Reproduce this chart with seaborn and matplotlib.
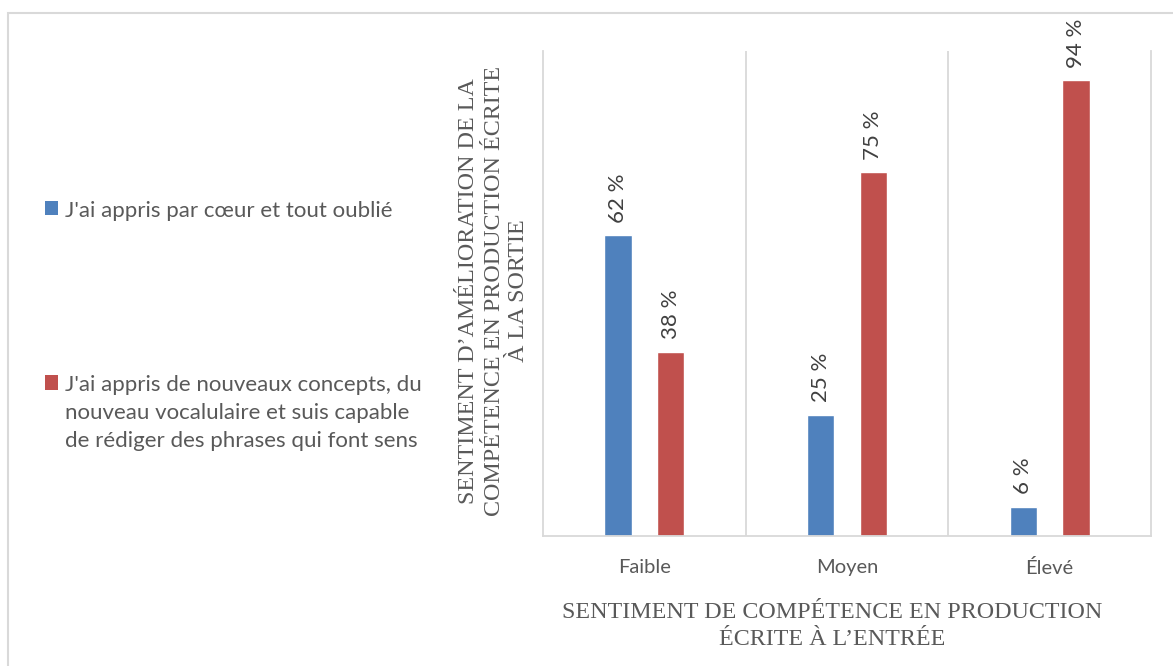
import matplotlib
matplotlib.use("Agg")
import matplotlib.pyplot as plt
import seaborn as sns
import pandas as pd
from matplotlib.patches import Patch, Rectangle

categories = ["Faible", "Moyen", "Élevé"]
series_names = [
    "J'ai appris par cœur et tout oublié",
    "J'ai appris de nouveaux concepts, du\nnouveau vocalulaire et suis capable\nde rédiger des phrases qui font sens",
]
values_oublie = [62, 25, 6]
values_concepts = [38, 75, 94]
colors = ["#4F81BD", "#C0504D"]
xlabel = "SENTIMENT DE COMPÉTENCE EN PRODUCTION\nÉCRITE À L’ENTRÉE"
ylabel = "SENTIMENT D’AMÉLIORATION DE LA\nCOMPÉTENCE EN PRODUCTION ÉCRITE\nÀ LA SORTIE"

df = pd.DataFrame({
    "cat": categories * 2,
    "serie": [series_names[0]] * 3 + [series_names[1]] * 3,
    "val": values_oublie + values_concepts,
})

sns.set_theme(style="white")
plt.rcParams["font.family"] = ["Lato", "DejaVu Sans"]

fig = plt.figure(figsize=(11.73, 6.66), dpi=100)
ax = fig.add_axes([543 / 1173, 130 / 666, 608 / 1173, 485 / 666])

sns.barplot(data=df, x="cat", y="val", hue="serie", order=categories,
            hue_order=series_names, palette=colors, width=0.52, gap=0.48,
            ax=ax, legend=False, saturation=1)

ax.set_ylim(0, 100)
ax.set_xlim(-0.5, 2.5)
ax.set_yticks([])
ax.set_xticks(range(3))
ax.set_xticklabels(categories)
ax.tick_params(axis="x", length=0, pad=16.5, labelsize=14.5, labelcolor="#595959")
ax.set_xticks([0.5, 1.5], minor=True)
ax.tick_params(axis="x", which="minor", length=0)
ax.grid(False)
ax.grid(True, axis="x", which="minor", color="#d9d9d9", linewidth=1.3)

ax.spines["top"].set_visible(False)
for side in ["left", "right", "bottom"]:
    ax.spines[side].set_color("#d9d9d9")
    ax.spines[side].set_linewidth(1.3)

for cont in ax.containers:
    ax.bar_label(cont, labels=[f"{v:.0f} %" for v in cont.datavalues],
                 rotation=90, padding=9, fontsize=16, color="#404040")

ax.set_xlabel(xlabel, family="Liberation Serif", fontsize=17.3, color="#595959",
              linespacing=1.32)
ax.xaxis.set_label_coords((832 - 543) / 608, (536 - 626) / 485)
ax.xaxis.label.set_va("center")
ax.set_ylabel(ylabel, family="Liberation Serif", fontsize=17.3, color="#595959",
              linespacing=1.25, ha="center", va="center")
ax.yaxis.set_label_coords((494 - 543) / 608, (536 - 291) / 485)

handles = [Patch(facecolor=c, edgecolor="none") for c in colors]
leg = fig.legend(handles, series_names, loc="upper left",
                 bbox_to_anchor=(45 / 1173, 1 - 201 / 666), frameon=False,
                 fontsize=16, labelcolor="#595959", borderpad=0, borderaxespad=0,
                 handlelength=0.6, handleheight=0.6, handletextpad=0.3,
                 labelspacing=6.95)
for t in leg.get_texts():
    t.set_linespacing(1.5)
for col in leg._legend_handle_box.get_children():
    for hp in col.get_children():
        hp.align = "top"

fig.patches.append(Rectangle((8 / 1173, -0.1), 1.2, 1.1 - 13 / 666,
                             transform=fig.transFigure, fill=False,
                             edgecolor="#d9d9d9", linewidth=1.5))

fig.savefig("out.png", dpi=100)
